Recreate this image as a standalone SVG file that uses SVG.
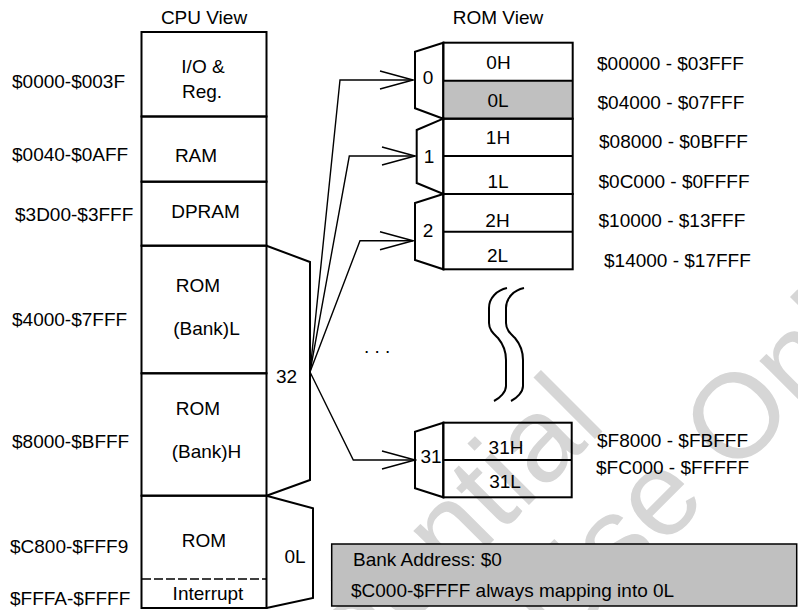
<svg xmlns="http://www.w3.org/2000/svg" width="798" height="610" viewBox="0 0 798 610">
<defs>
<style>
text{font-family:"Liberation Sans",Arial,sans-serif;font-size:19px;fill:#000}
.m{text-anchor:middle}
.box{fill:none;stroke:#000;stroke-width:2}
.ln{fill:none;stroke:#000;stroke-width:1.4}
.wm{font-size:120px;fill:#d6d6d6}
</style>
<marker id="ah" viewBox="-35 -11 37 22" refX="0" refY="0" markerWidth="37" markerHeight="22" markerUnits="userSpaceOnUse" orient="auto">
<path d="M-33,-9 L0,0 L-33,9" fill="none" stroke="#000" stroke-width="1.4"/>
</marker>
</defs>
<rect width="798" height="610" fill="#fff"/>
<g id="watermark">
<text class="wm" transform="translate(160,874) rotate(-45)">Confidential</text>
<text class="wm" transform="translate(558,652) rotate(-45)">Use Only</text>
</g>
<text class="m" x="204" y="24">CPU View</text>
<text class="m" x="498" y="24">ROM View</text>
<g id="cpu-io">
<rect class="box" x="141.5" y="32" width="125" height="84.5"/>
<text class="m" x="203" y="73">I/O &amp;</text>
<text class="m" x="202" y="98">Reg.</text>
<text x="12" y="88">$0000-$003F</text>
</g>
<g id="cpu-ram">
<rect class="box" x="141.5" y="116.5" width="125" height="65.2"/>
<text class="m" x="196" y="162">RAM</text>
<text x="12" y="161">$0040-$0AFF</text>
</g>
<g id="cpu-dpram">
<rect class="box" x="141.5" y="181.7" width="125" height="64"/>
<text class="m" x="205.5" y="218">DPRAM</text>
<text x="15" y="221">$3D00-$3FFF</text>
</g>
<g id="cpu-rom-l">
<rect class="box" x="141.5" y="245.7" width="125" height="127.6"/>
<text class="m" x="198" y="292">ROM</text>
<text class="m" x="206.5" y="335">(Bank)L</text>
<text x="12" y="326">$4000-$7FFF</text>
</g>
<g id="cpu-rom-h">
<rect class="box" x="141.5" y="373.3" width="125" height="122.4"/>
<text class="m" x="198" y="415">ROM</text>
<text class="m" x="206.5" y="458">(Bank)H</text>
<text x="12" y="448">$8000-$BFFF</text>
</g>
<g id="cpu-rom-fixed">
<rect class="box" x="141.5" y="495.7" width="125" height="112.3"/>
<line x1="142" y1="579" x2="266" y2="579" stroke="#000" stroke-width="1.4" stroke-dasharray="9,3"/>
<text class="m" x="204" y="547">ROM</text>
<text class="m" x="208" y="600">Interrupt</text>
<text x="10" y="553">$C800-$FFF9</text>
<text x="10" y="605">$FFFA-$FFFF</text>
</g>
<g id="mux-32">
<polyline class="box" points="266.5,245.7 310,262 310,480 266.5,495.7"/>
<text class="m" x="286.5" y="383">32</text>
</g>
<g id="mux-0l">
<polyline class="box" points="266.5,495.7 313,508.3 313,598 266.5,608"/>
<text class="m" x="295" y="563">0L</text>
</g>
<g id="rom-bank0">
<polygon class="box" points="443.3,42.7 415,51.7 415,108.3 443.3,118.7"/>
<rect x="443.3" y="80.7" width="129.4" height="38" fill="#c0c0c0"/>
<rect class="box" x="443.3" y="42.7" width="129.4" height="76"/>
<line class="box" x1="443.3" y1="80.7" x2="572.7" y2="80.7"/>
<text class="m" x="428" y="84">0</text>
<text class="m" x="498.5" y="69">0H</text>
<text class="m" x="498" y="107">0L</text>
<text x="597" y="70">$00000 - $03FFF</text>
<text x="597.5" y="109">$04000 - $07FFF</text>
</g>
<g id="rom-bank1">
<polygon class="box" points="443.3,118.7 416.7,130 416.7,183 443.3,194"/>
<rect class="box" x="443.3" y="118.7" width="129.4" height="75.3"/>
<line class="box" x1="443.3" y1="156" x2="572.7" y2="156"/>
<text class="m" x="429" y="163">1</text>
<text class="m" x="498" y="144">1H</text>
<text class="m" x="498" y="188">1L</text>
<text x="599" y="148">$08000 - $0BFFF</text>
<text x="598.5" y="188">$0C000 - $0FFFF</text>
</g>
<g id="rom-bank2">
<polygon class="box" points="443.3,194 415,203 415,260 443.3,269.3"/>
<rect class="box" x="443.3" y="194" width="129.4" height="75.3"/>
<line class="box" x1="443.3" y1="231.7" x2="572.7" y2="231.7"/>
<text class="m" x="428" y="236.5">2</text>
<text class="m" x="497.5" y="226.5">2H</text>
<text class="m" x="497.5" y="261.5">2L</text>
<text x="598.5" y="227">$10000 - $13FFF</text>
<text x="604" y="267">$14000 - $17FFF</text>
</g>
<g id="rom-bank31">
<polygon class="box" points="443.3,422.7 415,431.7 415,488.3 443.3,497.3"/>
<rect class="box" x="443.3" y="422.7" width="128.4" height="74.6"/>
<line class="box" x1="443.3" y1="460" x2="571.7" y2="460"/>
<text class="m" x="431" y="463">31</text>
<text class="m" x="506" y="454">31H</text>
<text class="m" x="505" y="488">31L</text>
<text x="597" y="447">$F8000 - $FBFFF</text>
<text x="596" y="474">$FC000 - $FFFFF</text>
</g>
<g id="ellipsis">
<text x="364" y="353">. . .</text>
<path class="box" d="M507,288 C497,290 489,298 489,308 L489,323 C489,330 494,334 498,338 C503,344 506,350 506,360 L506,386 C506,392 500,398 494,401"/>
<path class="box" transform="translate(17,0)" d="M507,288 C497,290 489,298 489,308 L489,323 C489,330 494,334 498,338 C503,344 506,350 506,360 L506,386 C506,392 500,398 494,401"/>
</g>
<g id="connectors">
<polyline class="ln" points="310,372 340,80 413,80" marker-end="url(#ah)"/>
<polyline class="ln" points="310,372 349.3,156 415,156" marker-end="url(#ah)"/>
<polyline class="ln" points="310,372 360,240.7 413,240.7" marker-end="url(#ah)"/>
<polyline class="ln" points="310,372 353.3,460 415,460" marker-end="url(#ah)"/>
</g>
<g id="note">
<rect x="331.7" y="544" width="465" height="62" fill="#c0c0c0" stroke="#000" stroke-width="1.5"/>
<text x="353" y="566">Bank Address: $0</text>
<text x="351" y="597">$C000-$FFFF always mapping into 0L</text>
</g>
</svg>
